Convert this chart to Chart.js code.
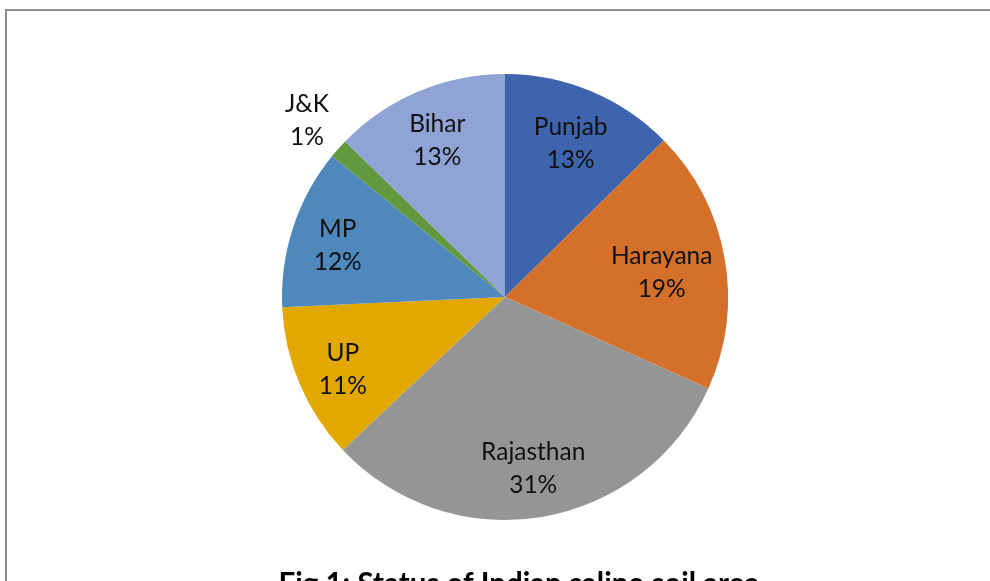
<!DOCTYPE html>
<html>
<head>
<meta charset="utf-8">
<script src="https://cdn.jsdelivr.net/npm/chart.js@4.4.0/dist/chart.umd.min.js"></script>
<style>
    html, body { margin: 0; padding: 0; background: #fff; overflow: hidden; }
    .wrap { position: relative; width: 990px; height: 581px; }
    .frame {
        position: absolute; left: 5px; top: 9px; width: 2000px; height: 2000px;
        border-top: 2px solid #8e8e8e; border-left: 2px solid #8e8e8e;
    }
    canvas { position: absolute; left: 0; top: 0; }
</style>
</head>
<body>
<div class="wrap">
    <div class="frame"></div>
    <canvas id="salineChart" width="990" height="581"></canvas>
</div>
<script>
// Saline soil area by state (share)
const states = ['Punjab', 'Harayana', 'Rajasthan', 'UP', 'MP', 'J&K', 'Bihar'];
const shares = [12.6, 19.1, 31.2, 11.3, 11.6, 1.4, 12.7];
const sliceColors = ['#3d64ad', '#d5702b', '#959595', '#e3a800', '#4e88bd', '#62993f', '#8fa3d4'];
const figTitle = 'Fig 1: Status of Indian saline soil area';

const labelFont = '24.5px Lato, "Open Sans", sans-serif';
const lineGap = 33;

// Draw category + percent labels, pulled inward until the text box fits in the pie
const sliceLabels = {
    id: 'sliceLabels',
    afterDraw(chart) {
        const ctx = chart.ctx;
        const meta = chart.getDatasetMeta(0);
        const total = shares.reduce((a, b) => a + b, 0);
        ctx.save();
        ctx.font = labelFont;
        ctx.fillStyle = '#111';
        ctx.textAlign = 'center';
        ctx.textBaseline = 'middle';
        meta.data.forEach((arc, i) => {
            const p = arc.getProps(['x', 'y', 'startAngle', 'endAngle', 'outerRadius'], true);
            const mid = (p.startAngle + p.endAngle) / 2;
            const pct = Math.round(shares[i] / total * 100) + '%';
            const small = shares[i] / total < 0.03;
            const hw = Math.max(ctx.measureText(states[i]).width, ctx.measureText(pct).width) / 2;
            const hh = lineGap;
            const dx = Math.cos(mid), dy = Math.sin(mid);
            let r = p.outerRadius * (small ? 1.19 : 0.79);
            if (!small) {
                const limit = p.outerRadius * 0.97;
                const far = (rr) => Math.hypot(Math.abs(dx * rr) + hw, Math.abs(dy * rr) + hh);
                while (r > 0 && far(r) > limit) r -= 1;
            }
            const cx = p.x + dx * r;
            const cy = p.y + dy * r + (small ? 0 : 4);
            ctx.fillText(states[i], cx, cy - lineGap / 2);
            ctx.fillText(pct, cx, cy + lineGap / 2);
        });
        // figure caption, cut off by the bottom edge as in the source
        ctx.font = 'bold 29.5px Lato, "Open Sans", sans-serif';
        ctx.textBaseline = 'alphabetic';
        ctx.fillStyle = '#000';
        ctx.fillText(figTitle, 519, 594);
        ctx.restore();
    }
};

const ctxPie = document.getElementById('salineChart').getContext('2d');
const salineChart = new Chart(ctxPie, {
    type: 'pie',
    data: {
        labels: states,
        datasets: [{
            data: shares,
            backgroundColor: sliceColors,
            borderWidth: 0
        }]
    },
    options: {
        responsive: false,
        animation: false,
        layout: {
            padding: { left: 282, right: 262, top: 74, bottom: 61 }
        },
        plugins: {
            legend: { display: false },
            tooltip: { enabled: false }
        }
    },
    plugins: [sliceLabels]
});
</script>
</body>
</html>
